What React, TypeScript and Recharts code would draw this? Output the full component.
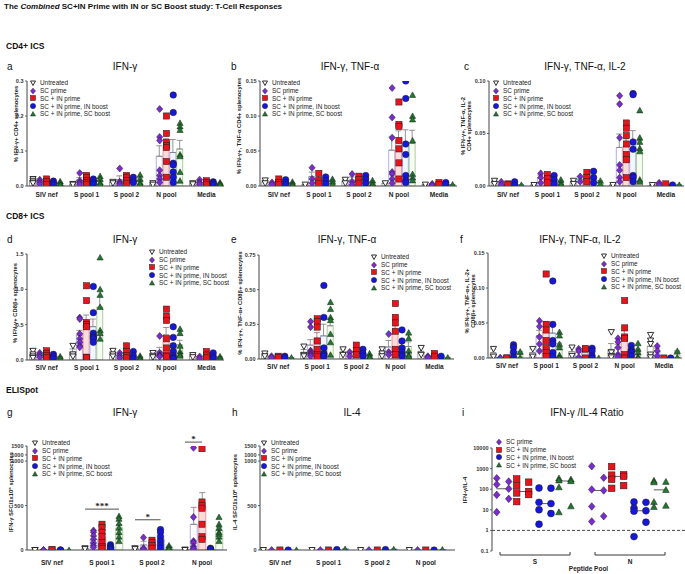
import React from 'react';
import { ComposedChart, Bar, Scatter, XAxis, YAxis, ErrorBar, Cell, Legend, ReferenceLine } from 'recharts';

const FONT = '"Liberation Sans", Arial, Helvetica, sans-serif';

const pools = ['SIV nef', 'S pool 1', 'S pool 2', 'N pool', 'Media'];
const groups = ['Untreated', 'SC prime', 'SC + IN prime', 'SC + IN prime, IN boost', 'SC + IN prime, SC boost'];
const ratioPools = ['S', 'N'];

// one row per peptide pool, inside: Untreated, SC prime, SC+IN prime, IN boost, SC boost
const cd4Ifng = [
  [[0.02, 0.015, 0.01, 0.008], [0.018, 0.012, 0.006], [0.02, 0.012, 0.005], [0.014, 0.009, 0.004], [0.013, 0.008, 0.003]],
  [[0.006, 0.004], [0.037, 0.015, 0.01, 0.005], [0.03, 0.025, 0.015, 0.01, 0.005], [0.02, 0.015, 0.01, 0.005], [0.028, 0.02, 0.01, 0.005]],
  [[0.012, 0.008], [0.05, 0.012, 0.008, 0.003], [0.03, 0.025, 0.015, 0.008], [0.025, 0.015, 0.01], [0.032, 0.02, 0.01, 0.005]],
  [[0.008, 0.004], [0.22, 0.14, 0.13, 0.045, 0.03, 0.02, 0.01], [0.2, 0.15, 0.125, 0.115, 0.11, 0.07, 0.025], [0.26, 0.21, 0.065, 0.06, 0.04, 0.025, 0.01], [0.18, 0.17, 0.16, 0.09, 0.085, 0.04, 0.015]],
  [[0.008, 0.005], [0.018, 0.01, 0.005], [0.015, 0.01, 0.005], [0.012, 0.008, 0.004], [0.01, 0.007, 0.003]],
];
const cd4Tnf = [
  [[0.008, 0.004], [0.005, 0.002], [0.01, 0.005, 0.002], [0.009, 0.005, 0.002], [0.006, 0.003, 0.001]],
  [[0.002], [0.026, 0.01, 0.004], [0.018, 0.008, 0.004], [0.013, 0.008, 0.003], [0.01, 0.006, 0.002]],
  [[0.009, 0.004], [0.017, 0.006, 0.002], [0.014, 0.009, 0.004], [0.015, 0.01, 0.004], [0.008, 0.004, 0.001]],
  [[0.004], [0.14, 0.098, 0.069, 0.02, 0.017, 0.01, 0.004], [0.12, 0.088, 0.085, 0.065, 0.053, 0.033, 0.01], [0.15, 0.125, 0.06, 0.045, 0.015, 0.008, 0.005], [0.13, 0.1, 0.095, 0.065, 0.017, 0.012, 0.008]],
  [[0.002], [0.003, 0.001], [0.005, 0.002], [0.005, 0.002], [0.002]],
];
const cd4Il2 = [
  [[0.005, 0.002], [0.004, 0.001], [0.002, 0.001], [0.004, 0.001], [0.001]],
  [[0.001], [0.012, 0.008, 0.003], [0.011, 0.007, 0.003], [0.01, 0.006, 0.002], [0.006, 0.003, 0.001]],
  [[0.005, 0.002], [0.009, 0.004], [0.013, 0.008, 0.004], [0.014, 0.008, 0.003], [0.005, 0.002]],
  [[0.001], [0.086, 0.078, 0.046, 0.02, 0.015, 0.008, 0.004], [0.06, 0.055, 0.048, 0.04, 0.03, 0.025, 0.008], [0.088, 0.087, 0.042, 0.035, 0.01, 0.008, 0.004], [0.072, 0.046, 0.042, 0.036, 0.033, 0.006, 0.004]],
  [[0.001], [0.003, 0.001], [0.002], [0.001], [0.001]],
];
const cd8Ifng = [
  [[0.13, 0.08, 0.05, 0.03], [0.1, 0.07, 0.04], [0.13, 0.09, 0.06, 0.03], [0.08, 0.05, 0.02], [0.05, 0.02]],
  [[0.2, 0.08, 0.05], [0.6, 0.58, 0.37, 0.3, 0.25, 0.2, 0.18], [1.05, 0.84, 0.53, 0.5, 0.47, 0.04, 0.03], [1.04, 0.67, 0.38, 0.34, 0.32, 0.3, 0.25], [1.45, 1.0, 0.92, 0.75, 0.42, 0.38, 0.3]],
  [[0.13, 0.08, 0.05], [0.1, 0.06, 0.03], [0.2, 0.12, 0.06, 0.03], [0.12, 0.06, 0.02], [0.06, 0.03, 0.01]],
  [[0.1, 0.06, 0.04], [0.34, 0.1, 0.07, 0.06, 0.05], [0.72, 0.62, 0.56, 0.3, 0.17, 0.07, 0.05], [0.47, 0.32, 0.2, 0.12, 0.06, 0.03, 0.02], [0.44, 0.38, 0.2, 0.12, 0.08, 0.06]],
  [[0.07, 0.04], [0.05, 0.02], [0.12, 0.07, 0.03], [0.1, 0.05, 0.02], [0.05, 0.02]],
];
const cd8Tnf = [
  [[0.04, 0.02], [0.02, 0.01], [0.02, 0.01], [0.02, 0.01], [0.01]],
  [[0.09, 0.03, 0.02], [0.27, 0.23, 0.06, 0.05, 0.04, 0.03, 0.02], [0.29, 0.27, 0.23, 0.13, 0.07, 0.03, 0.02], [0.53, 0.3, 0.08, 0.04, 0.03, 0.02], [0.41, 0.36, 0.3, 0.28, 0.18, 0.12, 0.03]],
  [[0.07, 0.03], [0.05, 0.02], [0.1, 0.06, 0.03], [0.07, 0.04, 0.02], [0.04, 0.02, 0.01]],
  [[0.07, 0.04, 0.02], [0.18, 0.05, 0.03], [0.4, 0.3, 0.26, 0.2, 0.07, 0.03], [0.21, 0.13, 0.08, 0.05, 0.03, 0.02], [0.19, 0.15, 0.06, 0.03, 0.02]],
  [[0.08, 0.03], [0.02, 0.01], [0.04, 0.02], [0.02], [0.01]],
];
const cd8Il2 = [
  [[0.013, 0.002], [0, 0], [0, 0], [0.019, 0.015, 0.008, 0.001], [0.009, 0.001]],
  [[0.013, 0.002], [0.053, 0.045, 0.03, 0.02, 0.01], [0.12, 0.048, 0.04, 0.025, 0.015, 0.008, 0.002], [0.11, 0.048, 0.025, 0.02, 0.008, 0.002], [0.037, 0.032, 0.02, 0.015, 0.004, 0, 0]],
  [[0.015, 0.003], [0.013, 0.01, 0.001], [0.013, 0.013, 0], [0.014, 0.01, 0.003, 0], [0]],
  [[0.037, 0.008, 0.003, 0.001], [0.028, 0.023, 0.015, 0.005, 0.002], [0.082, 0.043, 0.03, 0.028, 0.005, 0], [0.018, 0.012, 0.01, 0.008, 0.003], [0.021, 0.013, 0.008, 0.002, 0]],
  [[0.033, 0.025, 0.02, 0.005, 0.001], [0.017, 0.01, 0.003], [0], [0], [0.01, 0.001]],
];
// ELISpot, SFC per 10^6 cells (no Media column)
const elispotIfng = [
  [[0, 0], [0, 0], [5, 0], [0, 0], [0]],
  [[20, 10], [220, 200, 160, 120, 80, 50, 30], [290, 250, 200, 150, 80, 40, 20], [60, 40, 25, 10], [380, 350, 300, 250, 200, 150, 100]],
  [[20, 10], [140, 20, 10], [110, 80, 50, 20], [230, 200, 150, 100, 60, 20], [50, 30, 10]],
  [[5, 0], [1400, 370, 100, 80, 40, 20, 10], [1350, 540, 500, 470, 290, 150, 120], [20, 10, 5], [370, 290, 250, 200, 180, 150, 100]],
];
const elispotIl4 = [
  [[0], [0], [0], [0], [0]],
  [[0], [0], [0], [5], [10]],
  [[0], [0], [0], [5], [8]],
  [[0], [0], [0], [0], [5]],
];
const ifngSigns = [
  { pool: 1, from: 0, to: 4, y: 460, text: '***' },
  { pool: 2, from: 0, to: 3, y: 340, text: '*' },
  { pool: 3, from: 0, to: 2, y: 1720, text: '*' },
];
// IFN-g / IL-4 ratio: SC prime, SC+IN prime, IN boost, SC boost
const ratioS = [[340, 235, 170, 105, 53, 34, 7.7], [316, 219, 151, 77, 66, 55, 25], [115, 112, 23, 20, 10, 6.6, 2], [340, 300, 270, 250, 125, 15, 7.7]];
const ratioN = [[1300, 360, 96, 87, 14.5, 4.9, 2.7], [1250, 500, 480, 420, 300, 150, 110], [24, 23, 12, 9, 8.6, 2.5, 0.5], [260, 230, 220, 93, 24, 16, 14]];

const MARK_FILL = ['#ffffff', '#7b2bd1', '#e8141c', '#1616dc', '#1f7a2c'];
const BAR_STROKE = ['#9a9a9a', '#a9a3ef', '#ef8f8f', '#97acf2', '#9ec991'];
const BAR_FILL = ['#ffffff', '#ffffff', '#fbdcdc', '#f4f6ff', '#f7fbf4'];
const SLOT = 0.17;
const RATIO_OFF = [-0.34, -0.13, 0.105, 0.315];
const YW = 34;

const mean = (a: number[]) => a.reduce((s, v) => s + v, 0) / a.length;
const sem = (a: number[]) => {
  if (a.length < 2) return 0;
  const m = mean(a);
  const sd = Math.sqrt(a.reduce((s, v) => s + (v - m) ** 2, 0) / (a.length - 1));
  return sd / Math.sqrt(a.length);
};
const median = (a: number[]) => {
  const s = [...a].sort((p, q) => p - q);
  const k = Math.floor(s.length / 2);
  return s.length % 2 ? s[k] : (s[k - 1] + s[k]) / 2;
};
const same = (v: number) => v;
// broken y axis of the ELISpot plots: 0-1000 linear, 1000-1500 squeezed on top
const BRK0 = 1070;
const brk = (v: number) => (v <= 1000 ? v : BRK0 + (v - 1000) * 0.2);
const brkLabel = (v: number) => String(v > 1000 ? Math.round(1000 + (v - BRK0) / 0.2) : v);

function barRows(pts: number[][][], tf: (v: number) => number) {
  return pts.flatMap((pool, g) =>
    pool.map((vals, t) => {
      const m = mean(vals);
      const e = sem(vals);
      return { x: g + (t - 2) * SLOT, mean: tf(m), err: [0, tf(m + e) - tf(m)], t };
    })
  );
}
function dotRows(pts: number[][][], t: number, tf: (v: number) => number) {
  return pts.flatMap((pool, g) => pool[t].map((v) => ({ x: g + (t - 2) * SLOT, y: tf(v) })));
}

function Marker({ cx, cy, kind, r = 3.1 }: any) {
  if (cx == null || cy == null || isNaN(cx) || isNaN(cy)) return null;
  const st = { fill: MARK_FILL[kind], stroke: '#1a1a1a', strokeWidth: kind === 0 ? 0.9 : 0.5 };
  if (kind === 0) return <polygon points={`${cx - r},${cy - r * 0.8} ${cx + r},${cy - r * 0.8} ${cx},${cy + r}`} {...st} />;
  if (kind === 1) return <polygon points={`${cx},${cy - r * 1.15} ${cx + r},${cy} ${cx},${cy + r * 1.15} ${cx - r},${cy}`} {...st} />;
  if (kind === 2) return <rect x={cx - r} y={cy - r} width={r * 2} height={r * 2} {...st} />;
  if (kind === 3) return <circle cx={cx} cy={cy} r={r * 1.05} {...st} />;
  return <polygon points={`${cx},${cy - r} ${cx + r},${cy + r * 0.8} ${cx - r},${cy + r * 0.8}`} {...st} />;
}

function LegendBox({ kinds }: { kinds: number[] }) {
  return (
    <div style={{ fontFamily: FONT, fontSize: 6.4, color: '#222' }}>
      {kinds.map((k) => (
        <div key={k} style={{ display: 'flex', alignItems: 'center', height: 7.7, whiteSpace: 'nowrap' }}>
          <svg width={8} height={8} style={{ marginRight: 3, flex: 'none' }}>
            <Marker cx={4} cy={4} kind={k} r={2.5} />
          </svg>
          <span>{groups[k]}</span>
        </div>
      ))}
    </div>
  );
}

function YLab({ x, y, lines }: { x: number; y: number; lines: string[] }) {
  const fs = 5.8;
  const lh = 6.6;
  return (
    <text transform={`rotate(-90 ${x} ${y})`} x={x} y={y} textAnchor="middle" fontSize={fs} fontWeight={700} fill="#222" fontFamily={FONT}>
      {lines.map((l, i) => (
        <tspan key={i} x={x} dy={i === 0 ? -((lines.length - 1) * lh) / 2 + fs * 0.35 : lh}>
          {l}
        </tspan>
      ))}
    </text>
  );
}

const yTick = { fontSize: 5.5, fill: '#333', fontWeight: 700, fontFamily: FONT };
const xTick = { fontSize: 6.5, fill: '#222', fontWeight: 700, fontFamily: FONT };

function GroupPanel(p: any) {
  const { pts, box, xDomain, yDomain, yTicks, yFmt, tf = same, yLabel, yLabelAt, legendAt, barSize = 6, xGap = 6, notes = [] } = p;
  const cL = box.x0 - YW;
  const cT = box.y0 - 14;
  const W = box.x1 - cL + 3;
  const H = box.y1 - cT + 20;
  const xh = 14;
  const margin = { top: box.y0 - cT, right: cL + W - box.x1, bottom: cT + H - box.y1 - xh, left: 0 };
  const rows = barRows(pts, tf);
  return (
    <div style={{ position: 'absolute', left: cL, top: cT }}>
      <ComposedChart width={W} height={H} margin={margin} data={rows}>
        <XAxis
          type="number"
          dataKey="x"
          domain={xDomain}
          allowDataOverflow
          ticks={pts.map((_: any, i: number) => i)}
          interval={0}
          tickFormatter={(i: number) => pools[i]}
          axisLine={{ stroke: '#444', strokeWidth: 1 }}
          tickLine={false}
          tickSize={0}
          tickMargin={xGap}
          tick={xTick}
          height={xh}
        />
        <YAxis
          type="number"
          domain={yDomain}
          allowDataOverflow
          ticks={yTicks}
          interval={0}
          tickFormatter={yFmt}
          width={YW}
          axisLine={{ stroke: '#444', strokeWidth: 1 }}
          tickLine={{ stroke: '#444', strokeWidth: 0.8 }}
          tickSize={2}
          tickMargin={1.5}
          tick={yTick}
          label={() => <YLab x={yLabelAt.x - cL} y={yLabelAt.y - cT} lines={yLabel} />}
        />
        <Bar dataKey="mean" barSize={barSize} isAnimationActive={false} legendType="none">
          {rows.map((r, i) => (
            <Cell key={i} fill={BAR_FILL[r.t]} stroke={BAR_STROKE[r.t]} strokeWidth={0.9} />
          ))}
          <ErrorBar dataKey="err" width={3} stroke="#7a7a7a" strokeWidth={0.8} direction="y" />
        </Bar>
        {[0, 1, 2, 3, 4].map((t) => (
          <Scatter
            key={t}
            name={groups[t]}
            data={dotRows(pts, t, tf)}
            dataKey="y"
            isAnimationActive={false}
            shape={(sp: any) => <Marker cx={sp.cx} cy={sp.cy} kind={t} />}
          />
        ))}
        {notes.map((n: any, i: number) => (
          <ReferenceLine
            key={i}
            segment={[
              { x: n.pool + (n.from - 2) * SLOT, y: tf(n.y) },
              { x: n.pool + (n.to - 2) * SLOT, y: tf(n.y) },
            ]}
            stroke="#222"
            strokeWidth={0.8}
            ifOverflow="visible"
            label={{ value: n.text, position: 'top', offset: 0, fontSize: 9, fontWeight: 700, fill: '#222' }}
          />
        ))}
        <Legend
          layout="vertical"
          align="center"
          verticalAlign="middle"
          wrapperStyle={{ left: legendAt.x - 4 - cL, top: legendAt.y - 3.85 - cT, width: 'auto', height: 'auto' }}
          content={() => <LegendBox kinds={[0, 1, 2, 3, 4]} />}
        />
      </ComposedChart>
    </div>
  );
}

function BracketTick({ x, y, payload }: any) {
  const half = 35;
  return (
    <g>
      <path d={`M${x - half},${y + 1} V${y + 4} H${x + half} V${y + 1}`} fill="none" stroke="#222" strokeWidth={0.9} />
      <text x={x} y={y + 13} textAnchor="middle" fontSize={6.5} fontWeight={700} fill="#222" fontFamily={FONT}>
        {ratioPools[payload.value]}
      </text>
    </g>
  );
}

function RatioPanel() {
  const box = { x0: 492, y0: 448, x1: 685, y1: 551 };
  const cL = 455;
  const cT = 430;
  const W = 230;
  const H = 144;
  const xh = 21;
  const margin = { top: box.y0 - cT, right: cL + W - box.x1, bottom: cT + H - box.y1 - xh, left: 0 };
  const lists = [ratioS, ratioN];
  const cols = lists.flatMap((pool, p) => pool.map((vals, t) => ({ p, t, vals, cx: p + RATIO_OFF[t] })));
  return (
    <div style={{ position: 'absolute', left: cL, top: cT }}>
      <ComposedChart width={W} height={H} margin={margin}>
        <XAxis
          type="number"
          dataKey="x"
          domain={[-0.453, 1.579]}
          allowDataOverflow
          ticks={[0, 1]}
          interval={0}
          axisLine={false}
          tickLine={false}
          tickSize={0}
          tickMargin={0}
          tick={<BracketTick />}
          height={xh}
          label={{ value: 'Peptide Pool', position: 'insideBottom', offset: 1, fontSize: 6.5, fontWeight: 700, fill: '#222', fontFamily: FONT }}
        />
        <YAxis
          type="number"
          scale="log"
          domain={[0.1, 10000]}
          allowDataOverflow
          ticks={[0.1, 1, 10, 100, 1000, 10000]}
          interval={0}
          width={box.x0 - cL}
          axisLine={{ stroke: '#444', strokeWidth: 1 }}
          tickLine={{ stroke: '#444', strokeWidth: 0.8 }}
          tickSize={2}
          tickMargin={1.5}
          tick={yTick}
          label={() => <YLab x={465 - cL} y={490 - cT} lines={['IFN-γ/IL-4']} />}
        />
        <ReferenceLine y={1} stroke="#333" strokeWidth={0.9} strokeDasharray="3 2" />
        {[0, 1, 2, 3].map((t) => (
          <Scatter
            key={t}
            name={groups[t + 1]}
            data={cols
              .filter((c) => c.t === t)
              .flatMap((c) =>
                [...c.vals].sort((a, b) => b - a).map((v, i) => ({ x: c.cx + (i % 2 ? 0.063 : -0.063), y: v }))
              )}
            dataKey="y"
            isAnimationActive={false}
            shape={(sp: any) => <Marker cx={sp.cx} cy={sp.cy} kind={t + 1} r={3.3} />}
          />
        ))}
        {cols.map((c, i) => (
          <ReferenceLine
            key={i}
            segment={[
              { x: c.cx - 0.065, y: median(c.vals) },
              { x: c.cx + 0.065, y: median(c.vals) },
            ]}
            stroke="#333"
            strokeWidth={0.8}
          />
        ))}
        <Legend
          layout="vertical"
          align="center"
          verticalAlign="middle"
          wrapperStyle={{ left: 499 - 4 - cL, top: 442 - 3.85 - cT, width: 'auto', height: 'auto' }}
          content={() => <LegendBox kinds={[1, 2, 3, 4]} />}
        />
      </ComposedChart>
    </div>
  );
}

function Txt({ x, y, size, bold = false, mid = false, children }: any) {
  return (
    <div
      style={{
        position: 'absolute',
        left: x,
        top: y - size * 0.6,
        fontSize: size,
        lineHeight: `${size * 1.2}px`,
        fontWeight: bold ? 700 : 400,
        whiteSpace: 'nowrap',
        fontFamily: FONT,
        color: '#111',
        transform: mid ? 'translateX(-50%)' : undefined,
      }}
    >
      {children}
    </div>
  );
}

const f1 = (v: number) => v.toFixed(1);
const f2 = (v: number) => v.toFixed(2);
const elispotTicks = [0, 500, 1000, BRK0, BRK0 + 100];

export default function App() {
  return (
    <div style={{ position: 'absolute', left: 0, top: 0, width: 685, height: 574, background: '#fff', overflow: 'hidden' }}>
      <Txt x={4} y={7} size={8} bold>
        The <i>Combined</i> SC+IN Prime with IN or SC Boost study: T-Cell Responses
      </Txt>
      <Txt x={6} y={46} size={8.5} bold>CD4+ ICS</Txt>
      <Txt x={6} y={216} size={8.5} bold>CD8+ ICS</Txt>
      <Txt x={6} y={390} size={8.5} bold>ELISpot</Txt>

      <Txt x={7} y={67} size={10}>a</Txt>
      <Txt x={125} y={67} size={10} mid>IFN-γ</Txt>
      <Txt x={231} y={67} size={10}>b</Txt>
      <Txt x={350} y={67} size={10} mid>IFN-γ, TNF-α</Txt>
      <Txt x={464} y={67} size={10}>c</Txt>
      <Txt x={585} y={67} size={10} mid>IFN-γ, TNF-α, IL-2</Txt>

      <Txt x={7} y={240} size={10}>d</Txt>
      <Txt x={125} y={240} size={10} mid>IFN-γ</Txt>
      <Txt x={231} y={240} size={10}>e</Txt>
      <Txt x={347} y={240} size={10} mid>IFN-γ, TNF-α</Txt>
      <Txt x={460} y={240} size={10}>f</Txt>
      <Txt x={580} y={240} size={10} mid>IFN-γ, TNF-α, IL-2</Txt>

      <Txt x={7} y={413} size={10}>g</Txt>
      <Txt x={125} y={413} size={10} mid>IFN-γ</Txt>
      <Txt x={232} y={413} size={10}>h</Txt>
      <Txt x={352} y={413} size={10} mid>IL-4</Txt>
      <Txt x={462} y={413} size={10}>i</Txt>
      <Txt x={587} y={413} size={10} mid>IFN-γ /IL-4 Ratio</Txt>

      <GroupPanel
        pts={cd4Ifng}
        box={{ x0: 27, y0: 81, x1: 224, y1: 186 }}
        xDomain={[-0.49, 4.44]}
        yDomain={[0, 0.3]}
        yTicks={[0, 0.1, 0.2, 0.3]}
        yFmt={f1}
        yLabel={['% IFN-γ+ CD4+ splenocytes']}
        yLabelAt={{ x: 16, y: 124 }}
        legendAt={{ x: 33, y: 83 }}
      />
      <GroupPanel
        pts={cd4Tnf}
        box={{ x0: 260, y0: 81, x1: 457, y1: 186 }}
        xDomain={[-0.47, 4.45]}
        yDomain={[0, 0.15]}
        yTicks={[0, 0.05, 0.1, 0.15]}
        yFmt={f2}
        yLabel={['% IFN-γ+, TNF-α CD4+ splenocytes']}
        yLabelAt={{ x: 239, y: 126 }}
        legendAt={{ x: 265, y: 83 }}
      />
      <GroupPanel
        pts={cd4Il2}
        box={{ x0: 489, y0: 81, x1: 684, y1: 186 }}
        xDomain={[-0.48, 4.46]}
        yDomain={[0, 0.1]}
        yTicks={[0, 0.05, 0.1]}
        yFmt={f2}
        yLabel={['% IFN-γ+, TNF-α, IL-2', 'CD4+ splenocytes']}
        yLabelAt={{ x: 466, y: 126 }}
        legendAt={{ x: 496, y: 83 }}
      />
      <GroupPanel
        pts={cd8Ifng}
        box={{ x0: 27, y0: 254, x1: 224, y1: 360 }}
        xDomain={[-0.49, 4.44]}
        yDomain={[0, 1.5]}
        yTicks={[0, 0.5, 1, 1.5]}
        yFmt={f1}
        yLabel={['% IFN-γ+ CD8β+ splenocytes']}
        yLabelAt={{ x: 15, y: 303 }}
        legendAt={{ x: 152, y: 252 }}
        xGap={5.5}
      />
      <GroupPanel
        pts={cd8Tnf}
        box={{ x0: 259, y0: 255, x1: 454, y1: 359 }}
        xDomain={[-0.49, 4.5]}
        yDomain={[0, 0.75]}
        yTicks={[0, 0.25, 0.5, 0.75]}
        yFmt={f2}
        yLabel={['% IFN-γ+, TNF-α+ CD8β+ splenocytes']}
        yLabelAt={{ x: 240, y: 303 }}
        legendAt={{ x: 374, y: 257 }}
        xGap={5.5}
      />
      <GroupPanel
        pts={cd8Il2}
        box={{ x0: 488, y0: 253, x1: 682, y1: 358 }}
        xDomain={[-0.48, 4.46]}
        yDomain={[0, 0.15]}
        yTicks={[0, 0.05, 0.1, 0.15]}
        yFmt={f2}
        yLabel={['% IFN-γ+, TNF-α+, IL-2+', 'CD8β+ splenocytes']}
        yLabelAt={{ x: 470, y: 301 }}
        legendAt={{ x: 604, y: 256 }}
        xGap={5.5}
      />
      <GroupPanel
        pts={elispotIfng}
        box={{ x0: 27, y0: 446, x1: 227, y1: 550 }}
        xDomain={[-0.5, 3.5]}
        yDomain={[0, BRK0 + 100]}
        yTicks={elispotTicks}
        yFmt={brkLabel}
        tf={brk}
        yLabel={['IFN-γ SFC/1x10⁶ splenocytes']}
        yLabelAt={{ x: 11, y: 492 }}
        legendAt={{ x: 35, y: 443 }}
        barSize={7}
        xGap={10}
        notes={ifngSigns}
      />
      <GroupPanel
        pts={elispotIl4}
        box={{ x0: 260, y0: 446, x1: 455, y1: 550 }}
        xDomain={[-0.41, 3.6]}
        yDomain={[0, BRK0 + 100]}
        yTicks={elispotTicks}
        yFmt={brkLabel}
        tf={brk}
        yLabel={['IL-4 SFC/1x10⁶ splenocytes']}
        yLabelAt={{ x: 235, y: 492 }}
        legendAt={{ x: 264, y: 443 }}
        barSize={7}
        xGap={10}
      />
      <RatioPanel />
    </div>
  );
}
